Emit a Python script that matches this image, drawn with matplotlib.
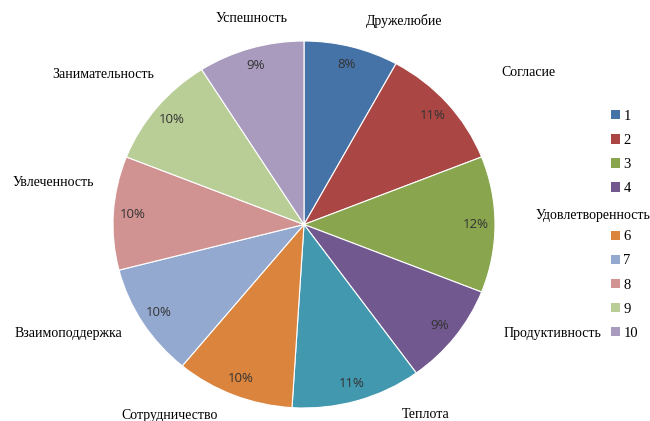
import matplotlib.pyplot as plt
from matplotlib.patches import Patch

# data
names = ['Дружелюбие', 'Согласие', 'Удовлетворенность', 'Продуктивность', 'Теплота',
         'Сотрудничество', 'Взаимоподдержка', 'Увлеченность', 'Занимательность', 'Успешность']
values = [8, 11, 12, 9, 11, 10, 10, 10, 10, 9]
legend_labels = ['1', '2', '3', '4', '5', '6', '7', '8', '9', '10']
colors = ['#4572A7', '#AA4643', '#89A54E', '#71588F', '#4198AF',
          '#DB843D', '#93A9CF', '#D19392', '#B9CD96', '#A99BBD']

# where the category names sit (pixels from top-left)
name_pos = [(404, 21), (528, 73), (593, 215), (552, 334), (426, 414),
            (170, 416), (68, 333), (53, 183), (103, 75), (252, 19)]

W, H = 650, 421
fig = plt.figure(figsize=(W / 100, H / 100), dpi=100)

# pie is a bit stretched sideways in the picture
ax = fig.add_axes([113 / W, 13 / H, 382 / W, 367 / H])
wedges, texts, autotexts = ax.pie(values, colors=colors, startangle=90, counterclock=False,
                                  autopct='%.0f%%', pctdistance=0.9,
                                  wedgeprops=dict(edgecolor='white', linewidth=0.8),
                                  textprops=dict(color='#333333', fontsize=9.5, family='Open Sans'))
ax.set_aspect('auto')
ax.set_xlim(-1, 1)
ax.set_ylim(-1, 1)

# legend; the label "Удовлетворенность" is drawn over entry 5, as in the original
handles = [Patch(facecolor=c, edgecolor='none') for c in colors]
fig.legend(handles, legend_labels, loc='upper left', bbox_to_anchor=(611 / W, 1 - 110 / H),
           frameon=False, prop=dict(family='Liberation Serif', size=10.5),
           handlelength=0.6, handleheight=0.6, handletextpad=0.25, labelspacing=0.76,
           borderpad=0, borderaxespad=0)

for name, (x, y) in zip(names, name_pos):
    fig.text(x / W, 1 - y / H, name, ha='center', va='center', family='Liberation Serif',
             fontsize=10, zorder=10,
             bbox=dict(facecolor='white', edgecolor='none', pad=1.5))

fig.savefig('out.png', dpi=100)
